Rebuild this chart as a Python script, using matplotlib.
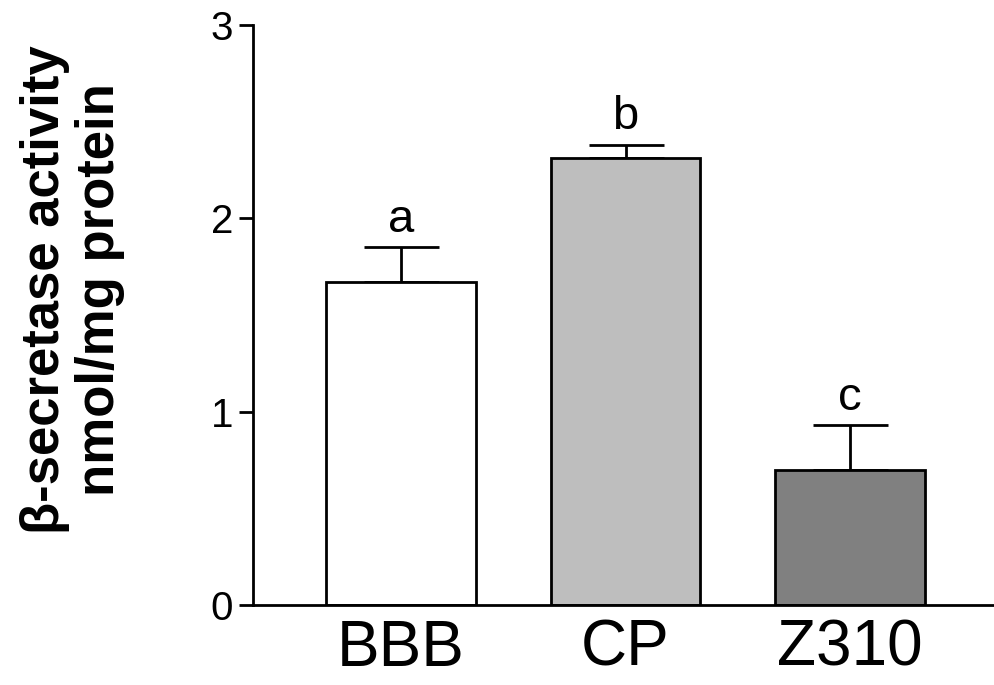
import numpy as np
import matplotlib
matplotlib.use("Agg")
import matplotlib.pyplot as plt

plt.rcParams['font.family'] = ['Liberation Sans', 'DejaVu Sans']

groups = ['BBB', 'CP', 'Z310']
activity = [1.67, 2.31, 0.70]
sem = [0.18, 0.07, 0.23]
letters = ['a', 'b', 'c']
colors = ['white', '#bebebe', '#808080']

fig = plt.figure(figsize=(9.95, 6.85), dpi=100)
ax = fig.add_axes([0.254, 0.1168, 0.746, 0.8467])

x = np.arange(len(groups))
lower = np.zeros(len(groups))
ax.bar(x, activity, width=0.665, color=colors, edgecolor='black', linewidth=2,
       yerr=[lower, sem], zorder=2,
       error_kw=dict(ecolor='black', elinewidth=2, capsize=27, capthick=2, zorder=1))

for xi, h, e, lab in zip(x, activity, sem, letters):
    ax.text(xi, h + e + 0.08, lab, ha='center', va='baseline', fontsize=34)

ax.set_xlim(-0.66, 2.645)
ax.set_ylim(0, 3)
ax.set_yticks([0, 1, 2, 3])
ax.set_xticks(x)
ax.set_xticklabels(groups, fontsize=46)
ax.tick_params(axis='y', labelsize=29, width=2, length=10, pad=4)
ax.tick_params(axis='x', length=0, pad=10)

for s in ['top', 'right']:
    ax.spines[s].set_visible(False)
for s in ['left', 'bottom']:
    ax.spines[s].set_linewidth(2)

ax.set_ylabel('β-secretase activity\nnmol/mg protein', fontsize=38,
              fontweight='bold', linespacing=1.12)
ax.yaxis.set_label_coords(-0.172, 0.543)

fig.savefig('out.png', dpi=100)
